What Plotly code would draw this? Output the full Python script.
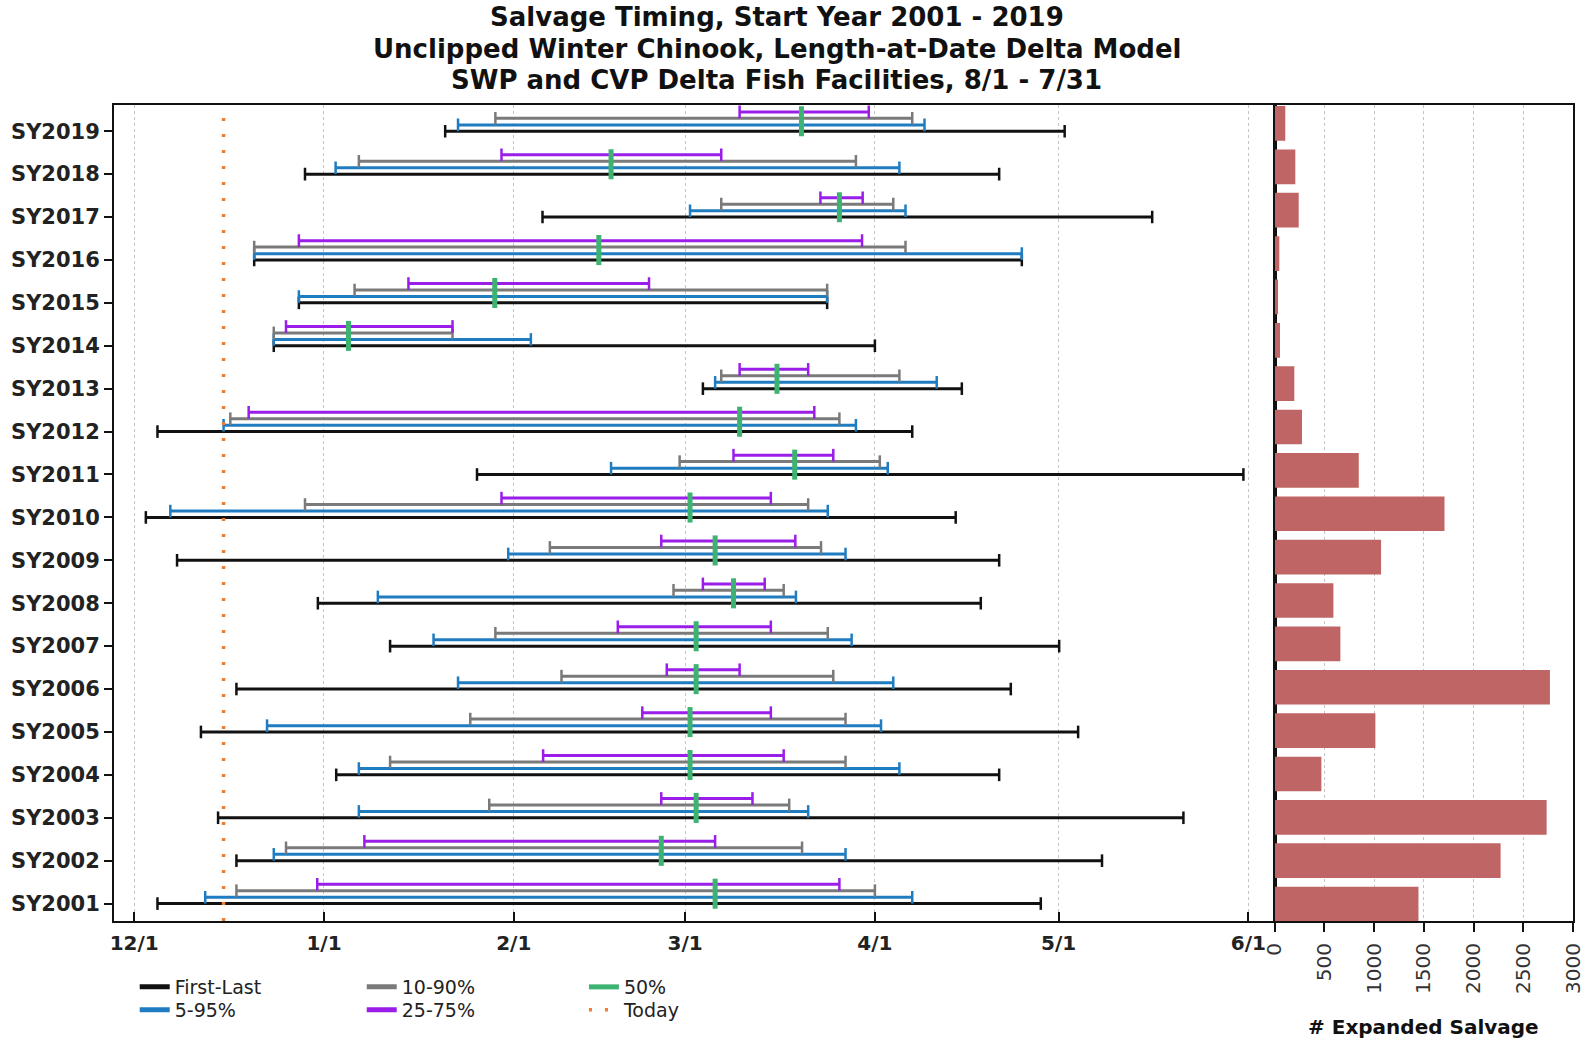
import plotly.graph_objects as go

# ---------------- data (days after 12/1 of each salvage year) ----------------
seasons = ["SY2001", "SY2002", "SY2003", "SY2004", "SY2005", "SY2006", "SY2007",
           "SY2008", "SY2009", "SY2010", "SY2011", "SY2012", "SY2013", "SY2014",
           "SY2015", "SY2016", "SY2017", "SY2018", "SY2019"]
first = [3.8, 16.7, 13.7, 33.0, 10.9, 16.7, 41.8, 30.0, 7.0, 1.9,
         56.0, 3.8, 92.9, 22.8, 26.9, 19.6, 66.7, 27.9, 50.8]
p5 = [11.6, 22.8, 36.7, 36.7, 21.7, 52.9, 48.9, 39.8, 61.1, 5.9,
      77.9, 14.6, 94.9, 22.8, 26.9, 19.6, 90.8, 32.9, 52.9]
p10 = [16.7, 24.8, 58.0, 41.8, 54.9, 69.8, 59.0, 88.1, 67.9, 27.9,
       89.1, 15.7, 95.9, 22.8, 36.0, 19.6, 95.9, 36.7, 59.0]
p25 = [29.9, 37.6, 86.1, 66.8, 83.0, 87.0, 79.0, 92.9, 86.1, 60.0,
       97.9, 18.7, 98.9, 24.8, 44.8, 26.9, 112.1, 60.0, 98.9]
p50 = [94.9, 86.1, 91.8, 90.8, 90.8, 91.8, 91.8, 97.9, 94.9, 90.8,
       107.9, 98.9, 105.0, 35.0, 58.9, 75.9, 115.2, 77.9, 109.0]
p75 = [115.2, 94.9, 101.0, 106.1, 104.0, 98.9, 104.0, 103.0, 108.0, 104.0,
       114.2, 111.1, 110.1, 52.0, 84.1, 118.9, 119.0, 95.9, 120.0]
p90 = [121.0, 109.1, 107.0, 116.2, 116.2, 114.2, 113.3, 106.1, 112.2, 110.1,
       121.8, 115.2, 125.0, 52.0, 113.2, 126.0, 124.0, 117.9, 127.1]
p95 = [127.1, 116.2, 110.1, 125.0, 122.0, 124.0, 117.2, 108.1, 116.2, 113.3,
       123.1, 117.9, 131.1, 64.8, 113.2, 145.0, 126.0, 125.0, 129.1]
last = [148.1, 158.1, 171.4, 141.3, 154.2, 143.2, 151.1, 138.3, 141.3, 134.2,
        181.2, 127.1, 135.2, 121.0, 113.2, 145.0, 166.3, 141.3, 152.0]
expanded_salvage = [1446, 2272, 2735, 470, 1013, 2768, 661, 591, 1070, 1708,
                    846, 275, 198, 54, 34, 47, 242, 208, 107]
today_day = 14.6

month_labels = ["12/1", "1/1", "2/1", "3/1", "4/1", "5/1", "6/1"]
month_days = [0, 31, 62, 90, 121, 151, 182]
salvage_ticks = [0, 500, 1000, 1500, 2000, 2500, 3000]
title_lines = ["Salvage Timing, Start Year 2001 - 2019",
               "Unclipped Winter Chinook, Length-at-Date Delta Model",
               "SWP and CVP Delta Fish Facilities, 8/1 - 7/31"]

# ---------------- styling ----------------
FONT = "DejaVu Sans"
C_BLACK = "#111111"
C_BLUE = "#1f7cc0"
C_GRAY = "#7a7a7a"
C_PURPLE = "#9a1ee8"
C_GREEN = "#3cb371"
C_ORANGE = "#ef7d2d"
C_BAR = "#c06565"

Y_RANGE = [-0.406, 18.611]
Y2_RANGE = [-0.39, 18.425]

fig = go.Figure()
rows = list(range(len(seasons)))


def add_range(starts, ends, offset, color):
    xs, ys = [], []
    for i, a, b in zip(rows, starts, ends):
        xs += [a, b, None]
        ys += [i + offset, i + offset, None]
    fig.add_trace(go.Scatter(x=xs, y=ys, mode="lines", showlegend=False,
                             line=dict(color=color, width=3), hoverinfo="skip",
                             xaxis="x", yaxis="y"))
    cx, cy = [], []
    for i, a, b in zip(rows, starts, ends):
        cx += [a, b]
        cy += [i + offset, i + offset]
    fig.add_trace(go.Scatter(x=cx, y=cy, mode="markers", showlegend=False,
                             marker=dict(symbol="line-ns-open", size=9, color=color,
                                         line=dict(color=color, width=2.5)),
                             hoverinfo="skip", xaxis="x", yaxis="y"))


add_range(first, last, 0.0, C_BLACK)
add_range(p5, p95, 0.147, C_BLUE)
add_range(p10, p90, 0.30, C_GRAY)
add_range(p25, p75, 0.45, C_PURPLE)

mx, my = [], []
for i, m in zip(rows, p50):
    mx += [m, m, None]
    my += [i - 0.12, i + 0.58, None]
fig.add_trace(go.Scatter(x=mx, y=my, mode="lines", showlegend=False,
                         line=dict(color=C_GREEN, width=5), hoverinfo="skip",
                         xaxis="x", yaxis="y"))

fig.add_trace(go.Scatter(x=[today_day, today_day], y=Y_RANGE, mode="lines",
                         showlegend=False,
                         line=dict(color=C_ORANGE, width=3.5, dash="3px,13px"),
                         hoverinfo="skip", xaxis="x", yaxis="y"))

fig.add_trace(go.Bar(x=expanded_salvage, y=rows, orientation="h", width=0.8,
                     marker=dict(color=C_BAR, line=dict(width=0)),
                     showlegend=False, xaxis="x2", yaxis="y2"))

# legend entries (thicker keys, as in the reference)
legend_items = [("First-Last", C_BLACK, "solid", 5, "legend"),
                ("5-95%", C_BLUE, "solid", 5, "legend2"),
                ("10-90%", C_GRAY, "solid", 5, "legend3"),
                ("25-75%", C_PURPLE, "solid", 5, "legend4"),
                ("50%", C_GREEN, "solid", 5, "legend5"),
                ("Today", C_ORANGE, "3px,13px", 3.5, "legend6")]
for name, color, dash, w, lg in legend_items:
    fig.add_trace(go.Scatter(x=[None], y=[None], mode="lines", name=name,
                             legend=lg, line=dict(color=color, width=w, dash=dash),
                             hoverinfo="skip", xaxis="x", yaxis="y"))

DOM = 0.7955
tick_font = dict(family=FONT, size=20, color="#222222", weight="bold")


def leg(x, y):
    return dict(orientation="v", xanchor="left", yanchor="middle", x=x, y=y,
                font=dict(family=FONT, size=19, color="#222222"),
                bgcolor="rgba(0,0,0,0)", borderwidth=0, itemwidth=30,
                tracegroupgap=0)


ROW1, ROW2 = -0.0809, -0.109
COL1, COL2, COL3 = 0.0142, 0.1698, 0.3221

annotations = []
for k, (line, yy) in enumerate(zip(title_lines, [1.1076, 1.0691, 1.0305])):
    annotations.append(dict(text=line, xref="paper", x=0.4544, yref="paper", y=yy,
                            xanchor="center", yanchor="middle", showarrow=False,
                            font=dict(family=FONT, size=26, color="#111111",
                                      weight="bold")))
annotations.append(dict(text="# Expanded Salvage", xref="x2 domain", x=0.5,
                        yref="paper", y=-0.1293, xanchor="center", yanchor="middle",
                        showarrow=False,
                        font=dict(family=FONT, size=20, color="#111111",
                                  weight="bold")))

fig.update_layout(
    width=1589, height=1040,
    margin=dict(l=114, r=16, t=105, b=119, autoexpand=False),
    paper_bgcolor="white", plot_bgcolor="white",
    xaxis=dict(domain=[0, DOM], range=[-3.3, 186.3], tickvals=month_days,
               ticktext=month_labels, ticks="inside", ticklen=9, tickwidth=1.5,
               tickcolor="#111111", showline=True, linecolor="#111111", linewidth=2,
               mirror=True, showgrid=True, gridcolor="#c4c4c4", griddash="dot",
               gridwidth=1, zeroline=False, tickfont=tick_font, anchor="y",
               ticklabelstandoff=3),
    yaxis=dict(domain=[0, 1], range=Y_RANGE, tickvals=rows, ticktext=seasons,
               ticks="outside", ticklen=8, tickwidth=1.5, tickcolor="#111111",
               showline=True, linecolor="#111111", linewidth=2, mirror=True,
               showgrid=False, zeroline=False,
               tickfont=dict(family=FONT, size=21, color="#222222", weight="bold"),
               anchor="x"),
    xaxis2=dict(domain=[DOM, 1], range=[0, 3000], tickvals=salvage_ticks,
                tickangle=-90, ticks="outside", ticklen=9, tickwidth=1.5,
                tickcolor="#111111", showline=True, linecolor="#111111",
                linewidth=2, mirror=True, showgrid=True, gridcolor="#c4c4c4",
                griddash="dot", gridwidth=1, zeroline=False, anchor="y2",
                ticklabelstandoff=3,
                tickfont=dict(family=FONT, size=20, color="#333333")),
    yaxis2=dict(domain=[0, 1], range=Y2_RANGE, showticklabels=False, ticks="",
                showline=True, linecolor="#111111", linewidth=2, mirror=True,
                showgrid=False, zeroline=False, anchor="x2"),
    legend=leg(COL1, ROW1),
    legend2=leg(COL1, ROW2),
    legend3=leg(COL2, ROW1),
    legend4=leg(COL2, ROW2),
    legend5=leg(COL3, ROW1),
    legend6=leg(COL3, ROW2),
    annotations=annotations,
)

fig.write_html("out.html")
